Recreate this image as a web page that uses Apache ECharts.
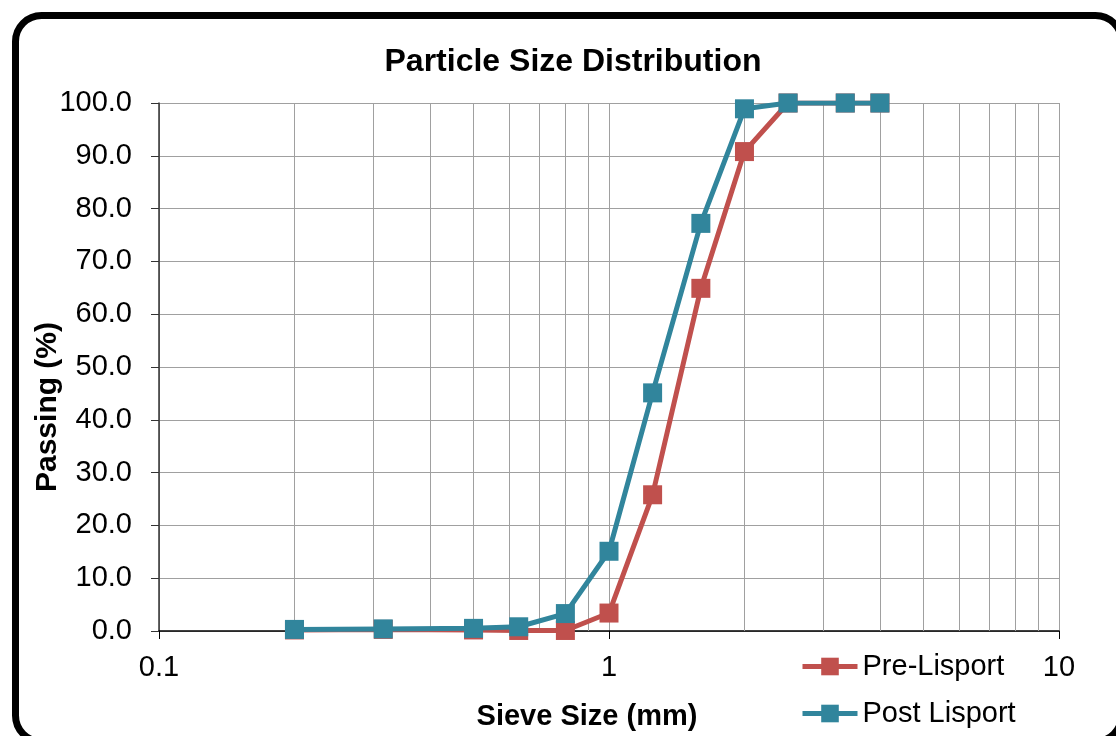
<!DOCTYPE html>
<html>
<head>
<meta charset="utf-8">
<script src="https://cdn.jsdelivr.net/npm/echarts@6/dist/echarts.min.js"></script>
<style>
  html, body { margin: 0; padding: 0; background: #fff; }
  #chart { width: 1116px; height: 736px; }
</style>
</head>
<body>
<div id="chart"></div>
<script>
// sieve sizes (mm)
var sieveSizes = [0.2, 0.315, 0.5, 0.63, 0.8, 1, 1.25, 1.6, 2, 2.5, 3.35, 4];
var prePassing = [0.2, 0.3, 0.2, 0.1, 0.1, 3.4, 25.8, 64.9, 90.8, 100, 100, 100];
var postPassing = [0.3, 0.4, 0.5, 0.8, 3.3, 15.1, 45.1, 77.2, 98.9, 100, 100, 100];
var minorGrid = [0.2, 0.3, 0.4, 0.5, 0.6, 0.7, 0.8, 0.9, 2, 3, 4, 5, 6, 7, 8, 9];

function pairs(xs, ys) {
    return xs.map(function (x, i) { return [x, ys[i]]; });
}

var font = 'Liberation Sans, Arial, sans-serif';
var myChart = echarts.init(document.getElementById('chart'));

myChart.setOption({
    animation: false,
    title: {
        text: 'Particle Size Distribution',
        left: 568,
        textAlign: 'center',
        top: 41,
        textStyle: { fontFamily: font, fontSize: 32, fontWeight: 'bold', color: '#000' }
    },
    grid: { left: 159, right: 57, top: 103, bottom: 103 },
    legend: {
        orient: 'vertical',
        left: 795,
        top: 647,
        itemWidth: 55,
        itemHeight: 22,
        itemGap: 18,
        lineStyle: { width: 5 },
        textStyle: { fontFamily: font, fontSize: 29, color: '#000' },
        data: ['Pre-Lisport', 'Post Lisport']
    },
    xAxis: {
        type: 'log',
        logBase: 10,
        min: 0.1,
        max: 10,
        name: 'Sieve Size (mm)',
        nameLocation: 'middle',
        nameGap: 71,
        nameMoveOverlap: false,
        nameTextStyle: {
            fontFamily: font, fontSize: 29, fontWeight: 'bold', color: '#000',
            padding: [0, 44, 0, 0]
        },
        axisLine: { lineStyle: { color: '#000', width: 1.5 } },
        axisTick: { length: 8, lineStyle: { color: '#000' } },
        axisLabel: {
            margin: 22,
            fontFamily: font, fontSize: 29, color: '#000',
            formatter: function (v) { return String(+v.toPrecision(3)); }
        },
        splitLine: { show: true, lineStyle: { color: '#a0a0a0', width: 1 } }
    },
    yAxis: {
        type: 'value',
        min: 0,
        max: 100,
        interval: 10,
        name: 'Passing (%)',
        nameLocation: 'middle',
        nameGap: 96,
        nameMoveOverlap: false,
        nameTextStyle: {
            fontFamily: font, fontSize: 30, fontWeight: 'bold', color: '#000',
            padding: [0, 80, 0, 0]
        },
        axisLine: { show: true, lineStyle: { color: '#333', width: 1.5 } },
        axisTick: { show: true, length: 8, lineStyle: { color: '#333' } },
        axisLabel: {
            margin: 27,
            fontFamily: font, fontSize: 29, color: '#000',
            formatter: function (v) { return v.toFixed(1); }
        },
        splitLine: { lineStyle: { color: '#a0a0a0', width: 1 } }
    },
    series: [
        {
            name: 'Pre-Lisport',
            type: 'line',
            data: pairs(sieveSizes, prePassing),
            symbol: 'rect',
            symbolSize: 19,
            color: '#C0504D',
            lineStyle: { width: 5 },
            z: 3,
            markLine: {
                silent: true,
                symbol: 'none',
                label: { show: false },
                lineStyle: { color: '#a0a0a0', width: 1, type: 'solid' },
                data: minorGrid.map(function (v) { return { xAxis: v }; }),
                z: 1
            }
        },
        {
            name: 'Post Lisport',
            type: 'line',
            data: pairs(sieveSizes, postPassing),
            symbol: 'rect',
            symbolSize: 19,
            color: '#31859C',
            lineStyle: { width: 5 },
            z: 4
        }
    ],
    graphic: [{
        type: 'rect',
        shape: { x: 15.5, y: 15.5, width: 1106, height: 726, r: 26 },
        style: { fill: 'none', stroke: '#000', lineWidth: 7 },
        silent: true
    }]
});
</script>
</body>
</html>
